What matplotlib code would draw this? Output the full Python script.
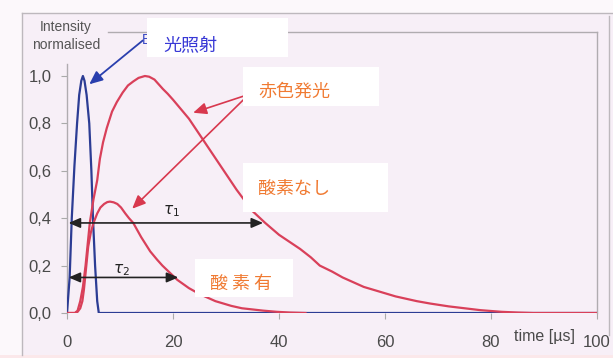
import matplotlib
matplotlib.use("Agg")
import matplotlib.pyplot as plt
from matplotlib.patches import Rectangle
from matplotlib.lines import Line2D

# Excitation flash (blue)
flash_t = [0, 0.5, 0.9, 1.4, 1.9, 2.3, 2.7, 3.0, 3.3, 3.7, 4.2, 4.6, 4.9, 5.3, 5.7, 6.0, 100]
flash_i = [0, 0.15, 0.40, 0.62, 0.80, 0.92, 0.98, 1.00, 0.98, 0.92, 0.80, 0.60, 0.40,
           0.20, 0.05, 0.0, 0.0]

# Red emission, no oxygen
nox_t = [0, 1.5, 2.0, 2.5, 3.0, 3.5, 4.3, 5.0, 5.7, 6.2, 6.8, 7.5, 8.5, 9.4, 10.5, 11.5,
         12.5, 13.5, 14.7, 15.5, 16.5, 17.3, 18.1, 19.0, 20.0, 21.5, 23.0, 24.5, 26.0,
         27.5, 29.0, 30.5, 32.0, 33.5, 35.0, 37.4, 40.0, 42.0, 44.0, 46.0, 47.7, 50.0,
         52.0, 54.0, 56.0, 59.0, 62.0, 64.0, 66.0, 68.5, 72.0, 75.0, 78.0, 82.0, 85.0,
         88.0, 100]
nox_i = [0, 0.0, 0.01, 0.05, 0.11, 0.20, 0.38, 0.48, 0.56, 0.65, 0.72, 0.78, 0.85, 0.89,
         0.93, 0.96, 0.977, 0.992, 1.0, 0.997, 0.985, 0.965, 0.945, 0.925, 0.90, 0.86,
         0.82, 0.77, 0.72, 0.67, 0.62, 0.57, 0.52, 0.475, 0.43, 0.38, 0.33, 0.30, 0.27,
         0.235, 0.20, 0.175, 0.15, 0.13, 0.11, 0.09, 0.07, 0.06, 0.05, 0.04, 0.028, 0.02,
         0.012, 0.005, 0.002, 0.0, 0.0]

# Red emission, with oxygen
ox_t = [0, 1.5, 2.0, 2.5, 2.9, 3.2, 3.6, 4.0, 4.5, 5.0, 5.7, 6.3, 7.0, 7.6, 8.1, 8.8,
        9.5, 10.2, 11.0, 11.7, 12.5, 14.0, 15.7, 17.0, 18.0, 19.4, 20.8, 23.0, 25.0,
        26.5, 28.0, 31.0, 33.0, 35.0, 37.0, 39.6, 42.0, 45.0]
ox_i = [0, 0.0, 0.005, 0.02, 0.05, 0.10, 0.19, 0.28, 0.34, 0.38, 0.42, 0.445, 0.46,
        0.468, 0.47, 0.467, 0.46, 0.445, 0.42, 0.40, 0.38, 0.32, 0.26, 0.225, 0.20, 0.17,
        0.14, 0.105, 0.08, 0.065, 0.05, 0.03, 0.02, 0.015, 0.01, 0.005, 0.002, 0.0]

x_ticks = [0, 20, 40, 60, 80, 100]
y_ticks = [0.0, 0.2, 0.4, 0.6, 0.8, 1.0]
y_tick_labels = ["0,0", "0,2", "0,4", "0,6", "0,8", "1,0"]

tau1_start, tau1_end, tau1_level = 0.3, 37.0, 0.38
tau2_start, tau2_end, tau2_level = 0.3, 21.0, 0.15

W, H = 613, 358
BLUE = "#2c3c94"
RED = "#d9405a"
ORANGE = "#f07a32"
LABEL_BLUE = "#3838d6"
GRAY = "#4a4a4a"
CJK = ["Noto Sans CJK JP", "DejaVu Sans"]


def fp(px, py):
    """Pixel position (from top-left) to figure fraction."""
    return px / W, 1 - py / H


fig = plt.figure(figsize=(W / 100, H / 100), dpi=100)
fig.patch.set_facecolor("#fcf8fb")

# scanned panel background and its frame
fig.patches.append(Rectangle(fp(22, 355), (613 - 22) / W, (355 - 13) / H,
                             transform=fig.transFigure, facecolor="#f7eff7",
                             edgecolor="none", zorder=-3))
fig.patches.append(Rectangle((0, 0), 1, (358 - 355) / H, transform=fig.transFigure,
                             facecolor="#fbe8ea", edgecolor="none", zorder=-3))
for (x0, y0), (x1, y1) in [((22, 13), (613, 13)), ((22, 13), (22, 355)),
                           ((609, 16), (609, 335))]:
    a, b = fp(x0, y0), fp(x1, y1)
    fig.add_artist(Line2D([a[0], b[0]], [a[1], b[1]], color="#bdb8bd", lw=1.0,
                          transform=fig.transFigure, zorder=-2))

ax = fig.add_axes([67 / W, 1 - 313 / H, 530 / W, (313 - 32) / H])
ax.set_facecolor("none")
ax.set_xlim(0, 100)
ax.set_ylim(0, (313 - 32) / 237)

ax.plot(flash_t, flash_i, color=BLUE, lw=1.6, zorder=3, solid_joinstyle="round")
ax.plot(nox_t, nox_i, color=RED, lw=1.6, zorder=4, solid_joinstyle="round")
ax.plot(ox_t, ox_i, color=RED, lw=1.6, zorder=4, solid_joinstyle="round")

# axes styling
for side in ["top", "right", "left"]:
    ax.spines[side].set_color("#b0acb0")
    ax.spines[side].set_linewidth(1.0)
ax.spines["bottom"].set_visible(False)
ax.spines["left"].set_bounds(0, 1.05)
ax.spines["top"].set_bounds(7.7, 100)

ax.set_xticks(x_ticks)
ax.set_xticklabels([str(v) for v in x_ticks])
ax.set_yticks(y_ticks)
ax.set_yticklabels(y_tick_labels)
ax.tick_params(axis="x", length=4, width=0.8, color="#aaaaaa", pad=12,
               labelsize=12, labelcolor=GRAY)
ax.tick_params(axis="y", length=4, width=0.8, color="#aaaaaa", pad=7,
               labelsize=12, labelcolor=GRAY)
for lab in ax.get_xticklabels() + ax.get_yticklabels():
    lab.set_fontfamily("Liberation Sans")

fig.text(*fp(545, 336), "time [µs]", ha="center", va="center", fontsize=11.5,
         color=GRAY, family="Liberation Sans")
fig.text(*fp(66, 36), "Intensity\nnormalised", ha="center", va="center",
         fontsize=10, color="#555555", family="Liberation Sans", linespacing=1.45)

# lifetime arrows
for t0, t1, lvl in [(tau1_start, tau1_end, tau1_level), (tau2_start, tau2_end, tau2_level)]:
    ax.annotate("", xy=(t1, lvl), xytext=(t0, lvl),
                arrowprops=dict(arrowstyle="<|-|>,head_length=0.7,head_width=0.3",
                                color="#222222", lw=1.2, shrinkA=0, shrinkB=0),
                zorder=5)
ax.text(19.8, 0.43, r"$\tau_1$", fontsize=11, color="#222222", ha="center", va="center")
ax.text(10.3, 0.18, r"$\tau_2$", fontsize=11, color="#222222", ha="center", va="center")

# pointer arrows
ax.annotate("", xy=(4.2, 0.965), xytext=(14.3, 1.15),
            arrowprops=dict(arrowstyle="-|>,head_length=0.8,head_width=0.35",
                            color="#2a3fae", lw=1.3, shrinkA=0, shrinkB=0),
            annotation_clip=False, zorder=6)
ax.annotate("", xy=(23.8, 0.845), xytext=(33.3, 0.915),
            arrowprops=dict(arrowstyle="-|>,head_length=0.8,head_width=0.35",
                            color="#d8384e", lw=1.2, shrinkA=0, shrinkB=0), zorder=6)
ax.annotate("", xy=(12.3, 0.44), xytext=(33.3, 0.9),
            arrowprops=dict(arrowstyle="-|>,head_length=0.8,head_width=0.35",
                            color="#d8384e", lw=1.2, shrinkA=0, shrinkB=0), zorder=6)

# partly hidden flash label under the white box
fig.text(*fp(142, 40), "B", ha="left", va="center", fontsize=10, color="#3b4bc4",
         family="Liberation Sans", zorder=1.5)

# white label boxes
boxes = [
    ((147, 18, 288, 57), "光照射", LABEL_BLUE, (163, 45)),
    ((243, 67, 379, 106), "赤色発光", ORANGE, (258, 92)),
    ((243, 163, 388, 212), "酸素なし", ORANGE, (258, 189)),
    ((195, 259, 293, 297), "酸 素 有", ORANGE, (210, 284)),
]
for (x0, y0, x1, y1), txt, col, (tx, ty) in boxes:
    fig.patches.append(Rectangle(fp(x0, y1), (x1 - x0) / W, (y1 - y0) / H,
                                 transform=fig.transFigure, facecolor="white",
                                 edgecolor="none", zorder=2))
    fig.text(*fp(tx, ty), txt, ha="left", va="center", fontsize=13, color=col,
             family=CJK, zorder=3)

fig.savefig("out.png", dpi=100, facecolor=fig.get_facecolor())
